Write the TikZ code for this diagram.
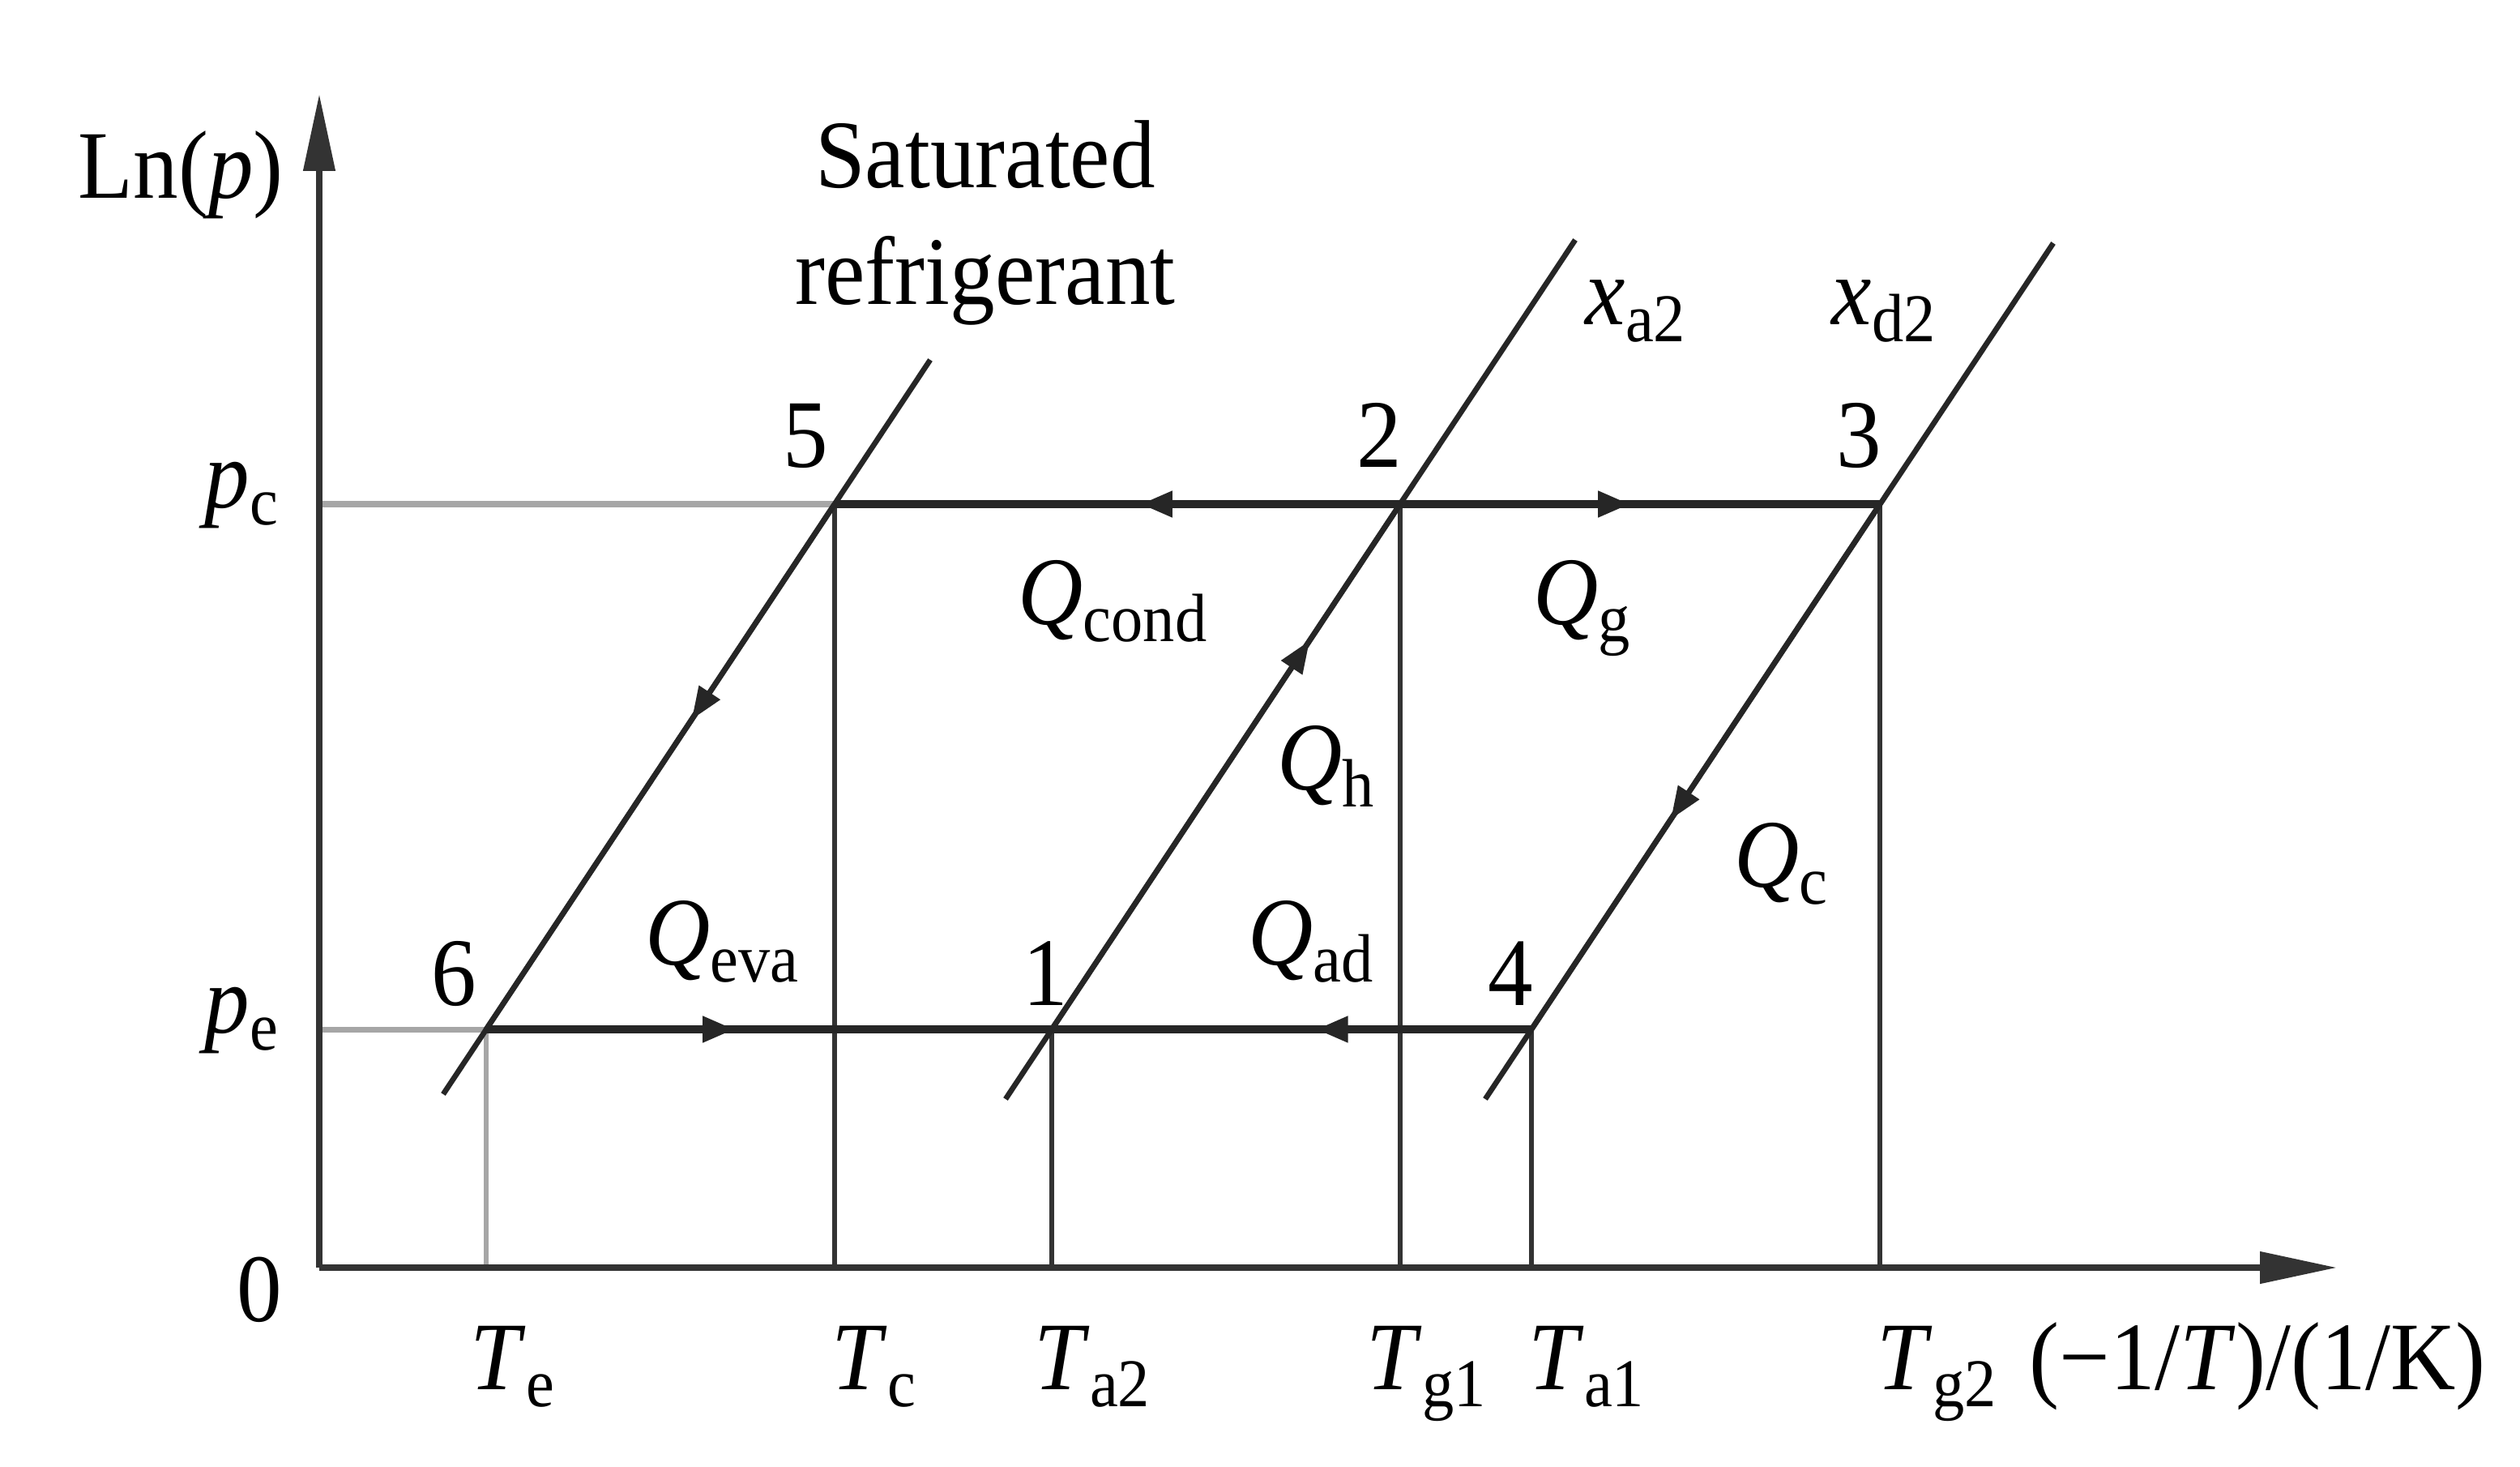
\documentclass[tikz,border=0pt]{standalone}
\usepackage{fontspec}
\setmainfont{Liberation Serif}[FakeStretch=0.93]
\usetikzlibrary{arrows.meta,decorations.markings}
\newcommand\lowsub[1]{\raisebox{-6pt}{\fontsize{24}{24}\selectfont #1}}
\newcommand\ivar[2]{\textit{#1}\lowsub{#2}}
\begin{document}
\begin{tikzpicture}[x=0.02cm,y=-0.02cm,
  every node/.style={font=\fontsize{34}{41}\selectfont, inner sep=0pt, text=black},
  axisline/.style={line width=2.2pt, draw=black!80, -{Triangle[length=0.95cm,width=0.38cm]}},
  guide/.style={line width=2pt, draw=black!35},
  flowline/.style={line width=3pt, draw=black!85},
  isostere/.style={line width=1.9pt, draw=black!85},
  dropline/.style={line width=1.5pt, draw=black!80},
  midarrow/.style={postaction={decorate}, decoration={markings, mark=at position #1 with {\arrow{Triangle[length=0.4cm,width=0.3cm]}}}},
]
\useasboundingbox[fill=white] (0,0) rectangle (1555,904.5);
% key points
\coordinate (O) at (197,782);
\coordinate (ytip) at (197,58);
\coordinate (xtip) at (1442,782);
\coordinate (p5) at (515,311);
\coordinate (p2) at (864,311);
\coordinate (p3) at (1160,311);
\coordinate (p6) at (300,635);
\coordinate (p1) at (649,635);
\coordinate (p4) at (945,635);
\coordinate (pcL) at (197,311);
\coordinate (peL) at (197,635);
\coordinate (f6) at (300,782);
\coordinate (f5) at (515,782);
\coordinate (f1) at (649,782);
\coordinate (f2) at (864,782);
\coordinate (f4) at (945,782);
\coordinate (f3) at (1160,782);
\coordinate (s0) at (273.5,675);
\coordinate (s1) at (574,222);
\coordinate (a0) at (620.5,678);
\coordinate (a1) at (972,148);
\coordinate (d0) at (916.5,678);
\coordinate (d1) at (1267,150);
% guides
\draw[guide] (pcL) -- (p5);
\draw[guide] (peL) -- (p6);
\draw[guide, line width=1.5pt] (p6) -- (f6);
% drop lines
\draw[dropline] (p5) -- (f5);
\draw[dropline] (p1) -- (f1);
\draw[dropline] (p2) -- (f2);
\draw[dropline] (p4) -- (f4);
\draw[dropline] (p3) -- (f3);
% isobars
\draw[flowline, midarrow=0.46] (p2) -- (p5);
\draw[flowline, midarrow=0.48] (p2) -- (p3);
\draw[flowline, midarrow=0.44] (p6) -- (p1);
\draw[flowline, midarrow=0.45] (p4) -- (p1);
% isosteres
\draw[isostere] (s0) -- (s1);
\draw[isostere] (a0) -- (a1);
\draw[isostere] (d0) -- (d1);
\path[isostere, midarrow=0.41] (p5) -- (p6);
\path[isostere, midarrow=0.74] (p1) -- (p2);
\path[isostere, midarrow=0.60] (p3) -- (p4);
% axes
\draw[axisline] (O) -- (ytip);
\draw[axisline] (O) -- (xtip);
% labels
\node[anchor=base west] (lnp) at (48,122) {Ln(\textit{p})};
\node[anchor=north, align=center] (sat) at (608,74) {Saturated\\refrigerant};
\node[anchor=base] (n5) at (497,288) {5};
\node[anchor=base] (n2) at (851,288) {2};
\node[anchor=base] (n3) at (1147,288) {3};
\node[anchor=base] (n6) at (280,620) {6};
\node[anchor=base] (n1) at (645,620) {1};
\node[anchor=base] (n4) at (932,620) {4};
\node[anchor=base west] (xa) at (978,200) {\ivar{x}{a2}};
\node[anchor=base west] (xd) at (1130,200) {\ivar{x}{d2}};
\node[anchor=base west] (pc) at (126,313) {\ivar{p}{c}};
\node[anchor=base west] (pe) at (126,637) {\ivar{p}{e}};
\node[anchor=base] (zero) at (160,815) {0};
\node[anchor=base west] (qcond) at (628,385) {\ivar{Q}{cond}};
\node[anchor=base west] (qg) at (946,385) {\ivar{Q}{g}};
\node[anchor=base west] (qh) at (788,487) {\ivar{Q}{h}};
\node[anchor=base west] (qc) at (1070,547) {\ivar{Q}{c}};
\node[anchor=base west] (qeva) at (398,595) {\ivar{Q}{eva}};
\node[anchor=base west] (qad) at (770,595) {\ivar{Q}{ad}};
\node[anchor=base west] (te) at (290,857) {\ivar{T}{e}};
\node[anchor=base west] (tc) at (513,857) {\ivar{T}{c}};
\node[anchor=base west] (ta2) at (638,857) {\ivar{T}{a2}};
\node[anchor=base west] (tg1) at (843,857) {\ivar{T}{g1}};
\node[anchor=base west] (ta1) at (943,857) {\ivar{T}{a1}};
\node[anchor=base west] (tg2) at (1158,857) {\ivar{T}{g2}};
\node[anchor=base west] (unit) at (1252,857) {(−1/\textit{T})/(1/K)};
\end{tikzpicture}
\end{document}
